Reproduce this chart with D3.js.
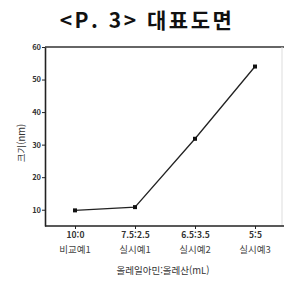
<!DOCTYPE html>
<html lang="ko">
<head>
<meta charset="UTF-8">
<title>대표도면</title>
<script src="https://cdnjs.cloudflare.com/ajax/libs/d3/7.8.5/d3.min.js"></script>
<style>
  body { margin: 0; background: #fff; }
  text { font-family: "Noto Sans CJK KR", sans-serif; }
</style>
</head>
<body>
<script>
    // 데이터
    var ratios = ["10:0", "7.5:2.5", "6.5:3.5", "5:5"];
    var names = ["비교예1", "실시예1", "실시예2", "실시예3"];
    var sizes = [9.8, 10.8, 31.8, 54];
    var yTicks = [10, 20, 30, 40, 50, 60];

    var width = 284, height = 286;
    var plotLeft = 45, plotRight = 282, plotTop = 47, plotBottom = 226;

    var svg = d3.select("body").append("svg")
        .attr("width", width).attr("height", height);

    svg.append("text")
        .attr("x", 147).attr("y", 28)
        .attr("text-anchor", "middle")
        .attr("font-size", 21).attr("font-weight", 700)
        .attr("letter-spacing", 2.5)
        .attr("fill", "#111")
        .text("<P. 3> 대표도면");

    var x = d3.scalePoint().domain(ratios).range([plotLeft, plotLeft + 240]).padding(0.5);
    var y = d3.scaleLinear().domain([5, 60]).range([plotBottom, plotTop]);

    // 위쪽, 오른쪽 테두리
    svg.append("line").attr("x1", plotLeft).attr("x2", width).attr("y1", plotTop).attr("y2", plotTop)
        .attr("stroke", "#333").attr("stroke-width", 1.6);
    svg.append("line").attr("x1", plotRight).attr("x2", plotRight).attr("y1", plotTop).attr("y2", plotBottom)
        .attr("stroke", "#ddd").attr("stroke-width", 1);

    // y축
    var yAxis = svg.append("g")
        .attr("transform", "translate(" + plotLeft + ",0)")
        .call(d3.axisLeft(y).tickValues(yTicks).tickSize(3).tickSizeOuter(0));
    yAxis.select(".domain").attr("stroke", "#222").attr("stroke-width", 1.6);
    yAxis.selectAll("line").attr("stroke", "#222");
    yAxis.selectAll("text")
        .attr("font-size", 7.5).attr("font-weight", 700).attr("fill", "#333")
        .attr("x", -4);

    // x축
    var xAxis = svg.append("g")
        .attr("transform", "translate(0," + plotBottom + ")")
        .call(d3.axisBottom(x).tickSize(3).tickSizeOuter(0));
    xAxis.select(".domain").attr("d", "M" + plotLeft + ",0H" + width)
        .attr("stroke", "#222").attr("stroke-width", 1.6);
    xAxis.selectAll("line").attr("stroke", "#222");
    xAxis.selectAll("text")
        .attr("font-size", 8.5).attr("font-weight", 700).attr("fill", "#333")
        .attr("y", 6);

    // 예 이름
    svg.selectAll(".name").data(names).enter().append("text")
        .attr("class", "name")
        .attr("x", function(d, i) { return x(ratios[i]); })
        .attr("y", 253)
        .attr("text-anchor", "middle")
        .attr("font-size", 9.5).attr("fill", "#444")
        .text(function(d) { return d; });

    // 축 제목
    svg.append("text")
        .attr("x", 163).attr("y", 274)
        .attr("text-anchor", "middle")
        .attr("font-size", 9.5).attr("fill", "#333")
        .text("올레일아민:올레산(mL)");

    svg.append("text")
        .attr("transform", "translate(25,143) rotate(-90)")
        .attr("text-anchor", "middle")
        .attr("font-size", 9.5).attr("fill", "#333")
        .text("크기(nm)");

    // 선
    var line = d3.line()
        .x(function(d, i) { return x(ratios[i]); })
        .y(function(d) { return y(d); });

    svg.append("path").datum(sizes)
        .attr("d", line)
        .attr("fill", "none").attr("stroke", "#222").attr("stroke-width", 1.3);

    svg.selectAll(".pt").data(sizes).enter().append("rect")
        .attr("class", "pt")
        .attr("x", function(d, i) { return x(ratios[i]) - 2; })
        .attr("y", function(d) { return y(d) - 2; })
        .attr("width", 4).attr("height", 4)
        .attr("fill", "#111");
</script>
</body>
</html>
